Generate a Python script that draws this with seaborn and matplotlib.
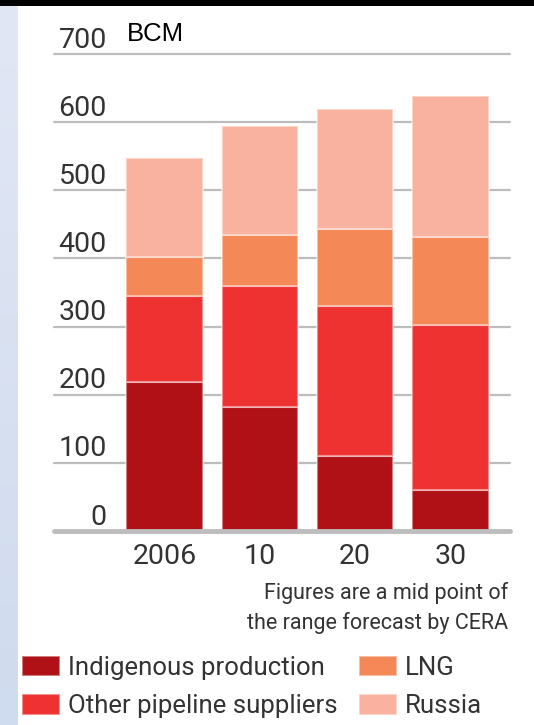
import numpy as np
import pandas as pd
import matplotlib
matplotlib.use("Agg")
import matplotlib.pyplot as plt
from matplotlib.patches import Patch, Rectangle
from matplotlib.colors import LinearSegmentedColormap
import seaborn as sns

# Gas supply by source, billion cubic metres
years = ["2006", "10", "20", "30"]
indigenous = [219, 182, 110, 60]
other_pipeline = [126, 178, 220, 242]
lng = [57, 74, 113, 129]
russia = [146, 160, 177, 207]

series_names = ["Indigenous production", "Other pipeline suppliers", "LNG", "Russia"]
series_colors = ["#B01117", "#EE3231", "#F48856", "#F8B29F"]
y_ticks = [0, 100, 200, 300, 400, 500, 600, 700]
unit_label = "BCM"
note_lines = ["Figures are a mid point of", "the range forecast by CERA"]

sns.set_style("white")
plt.rcParams["font.family"] = ["Roboto", "DejaVu Sans"]

W, H = 534, 725
fig = plt.figure(figsize=(W / 100, H / 100), dpi=100)
fig.patch.set_facecolor("white")

# page furniture: dark top band and pale side strip
fig.add_artist(Rectangle((0, 1 - 6 / H), 1, 6 / H, transform=fig.transFigure,
                         facecolor="black", edgecolor="none"))
strip = fig.add_axes([0, 0, 18 / W, 1 - 6 / H])
grad = np.linspace(0, 1, 256).reshape(-1, 1)
cmap = LinearSegmentedColormap.from_list("strip", ["#CFDBEE", "#E2E7F5"])
strip.imshow(grad, aspect="auto", cmap=cmap, origin="lower")
strip.set_axis_off()

ax = fig.add_axes([54 / W, (H - 531) / H, (510 - 54) / W, (531 - 54) / H])

df = pd.DataFrame({
    "year": years,
    series_names[0]: indigenous,
    series_names[1]: other_pipeline,
    series_names[2]: lng,
    series_names[3]: russia,
})

bottom = np.zeros(len(years))
for name, color in zip(series_names, series_colors):
    sns.barplot(data=df, x="year", y=name, bottom=bottom, color=color,
                width=0.8, ax=ax, edgecolor=(1, 1, 1, 0.45), linewidth=1.5,
                saturation=1, zorder=3)
    bottom = bottom + df[name].to_numpy()

ax.set_xlim(-1.16, 3.625)
ax.set_ylim(0, 700)
for s in ax.spines.values():
    s.set_visible(False)
ax.set_xlabel("")
ax.set_ylabel("")
ax.set_yticks([])
ax.set_xticks([])

# horizontal rules with their values sitting just above
for v in y_ticks:
    ax.axhline(v, color="#BDBDBD", lw=3.5 if v == 0 else 1.6, zorder=2 if v else 4,
               clip_on=False)
    ax.text(-0.605, v + 9.5, str(v), ha="right", va="baseline", fontsize=20.5,
            color="#333333", clip_on=False)

for i, lab in enumerate(years):
    ax.text(i, -49, lab, ha="center", va="baseline", fontsize=20.5,
            color="#333333", clip_on=False)

ax.text(-0.395, 719, unit_label, ha="left", va="baseline", fontsize=18.5,
        family=["Liberation Sans", "DejaVu Sans"], color="black", clip_on=False)

fig.text(508 / W, 1 - 599 / H, note_lines[0], ha="right", va="baseline",
         fontsize=15.5, color="#333333")
fig.text(508 / W, 1 - 629 / H, note_lines[1], ha="right", va="baseline",
         fontsize=15.5, color="#333333")

handles = [Patch(facecolor=c, edgecolor=(1, 1, 1, 0.45), linewidth=1.5)
           for c in series_colors]
fig.legend(handles, series_names, ncol=2, loc="upper left",
           bbox_to_anchor=(22 / W, 1 - 656 / H), frameon=False, fontsize=18.5,
           handlelength=1.47, handleheight=0.85, handletextpad=0.31,
           columnspacing=0.85, labelspacing=0.55, borderpad=0, borderaxespad=0,
           labelcolor="#333333")

fig.savefig("out.png", dpi=100, facecolor="white")
